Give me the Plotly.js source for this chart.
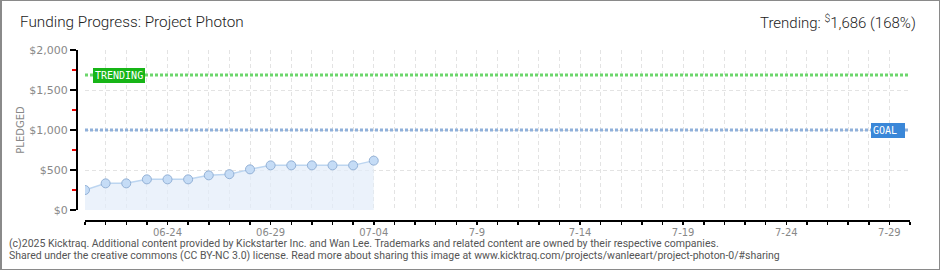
<!DOCTYPE html>
<html><head><meta charset="utf-8">
<script src="https://cdn.plot.ly/plotly-3.0.1.min.js"></script>
<style>
html,body{margin:0;padding:0;background:#fff;}
#wrap{position:relative;width:940px;height:270px;}
#chart{width:940px;height:270px;}
#frame{position:absolute;left:0;top:0;width:940px;height:270px;box-sizing:border-box;border:1px solid #8a8a8a;border-left-width:2px;pointer-events:none;}
</style></head>
<body><div id="wrap"><div id="chart"></div><div id="frame"></div></div>
<script>
const dates = ['2025-06-20','2025-06-21','2025-06-22','2025-06-23','2025-06-24','2025-06-25','2025-06-26','2025-06-27','2025-06-28','2025-06-29','2025-06-30','2025-07-01','2025-07-02','2025-07-03','2025-07-04'];
const pledged = [250, 333, 333, 383, 383, 383, 433, 448, 508, 558, 558, 558, 558, 558, 617];
const goal = 1000;
const trending = 1686;
const rangeStart = '2025-06-20';
const rangeEnd = '2025-07-30';
const labelDates = ['2025-06-24','2025-06-29','2025-07-04','2025-07-09','2025-07-14','2025-07-19','2025-07-24','2025-07-29'];
const labelTexts = ['06-24','06-29','07-04','7-9','7-14','7-19','7-24','7-29'];
const yTickVals = [0, 500, 1000, 1500, 2000];
const yTickTexts = ['$0','$500','$1,000','$1,500','$2,000'];
const titleText = 'Funding Progress: Project Photon';
const trendText = 'Trending: <sup>$</sup>1,686 (168%)';
const footer1 = '(c)2025 Kicktraq. Additional content provided by Kickstarter Inc. and Wan Lee. Trademarks and related content are owned by their respective companies.';
const footer2 = 'Shared under the creative commons (CC BY-NC 3.0) license. Read more about sharing this image at www.kicktraq.com/projects/wanleeart/project-photon-0/#sharing';

const DAY = 86400000;
const traces = [
  {x:[rangeStart, rangeEnd], y:[trending, trending], mode:'lines', line:{color:'#6cd66c', width:3, dash:'3px,2px'}, hoverinfo:'skip'},
  {x:[rangeStart, rangeEnd], y:[goal, goal], mode:'lines', line:{color:'#8fb0da', width:3, dash:'3px,2px'}, hoverinfo:'skip'},
  {x:dates, y:pledged, mode:'lines+markers', fill:'tozeroy', fillcolor:'rgba(226,237,250,0.7)',
   line:{color:'#bcd5f0', width:1.5}, marker:{size:9, color:'#c5dcf6', line:{color:'#93b1d6', width:1}}}
];
const gridStyle = {gridcolor:'#e3e3e3', griddash:'4px,3px', gridwidth:1};
const layout = {
  width:940, height:270, showlegend:false,
  paper_bgcolor:'#ffffff', plot_bgcolor:'#ffffff',
  margin:{l:76, r:30, t:50, b:50},
  font:{family:'DejaVu Sans', color:'#888'},
  title:{text:titleText, x:20/940, xanchor:'left', xref:'container', y:1-22/270, yref:'container', yanchor:'middle',
         font:{family:'Roboto', size:15.3, color:'#222', weight:300}},
  xaxis:{type:'date', range:[rangeStart, rangeEnd], domain:[9/834, 1], anchor:'free', position:0,
         tickvals:labelDates, ticktext:labelTexts, tickfont:{size:10, color:'#888'}, ticklabelstandoff:-1,
         showline:true, linecolor:'#000', linewidth:1.5, ticks:'outside', ticklen:3, tickcolor:'#000', tickwidth:1.5,
         showgrid:true, ...gridStyle, zeroline:false,
         minor:{dtick:DAY, tick0:rangeStart, ticks:'outside', ticklen:3, tickcolor:'#000', tickwidth:1.5, showgrid:true, gridcolor:'#e3e3e3', griddash:'4px,3px'}},
  xaxis2:{type:'date', range:[rangeStart, rangeEnd], domain:[9/834, 1], anchor:'free', position:0, overlaying:'x',
         dtick:DAY, tick0:rangeStart, ticks:'inside', ticklen:3, tickcolor:'#000', tickwidth:1.5, showticklabels:false,
         showgrid:false, zeroline:false, showline:false},
  yaxis:{range:[0, 2000], domain:[10/170, 1], anchor:'free', position:0,
         tickvals:yTickVals, ticktext:yTickTexts, tickfont:{size:11, color:'#888'},
         showline:true, linecolor:'#000', linewidth:1.5, ticks:'outside', ticklen:6, tickcolor:'#000', tickwidth:1.5,
         showgrid:true, ...gridStyle, zeroline:false,
         minor:{dtick:250, tick0:250, ticks:'outside', ticklen:4, tickcolor:'#e00', tickwidth:1.5, showgrid:false},
         title:{text:'PLEDGED', font:{size:10, color:'#888'}, standoff:1}},
  annotations:[
    {xref:'paper', yref:'y', x:17/834, y:trending, xanchor:'left', yanchor:'middle', text:'TRENDING', showarrow:false,
     bgcolor:'#17b517', bordercolor:'#17b517', borderpad:1, font:{family:'DejaVu Sans Mono', size:10, color:'#fff'}},
    {xref:'paper', yref:'y', x:829/834, y:goal, xanchor:'right', yanchor:'middle', text:'GOAL ', showarrow:false,
     bgcolor:'#3a87d8', bordercolor:'#3a87d8', borderpad:1, font:{family:'DejaVu Sans Mono', size:10, color:'#fff'}},
    {xref:'paper', yref:'paper', x:(918-76)/834, y:(220-22)/170, xanchor:'right', yanchor:'middle', text:trendText, showarrow:false,
     font:{family:'Roboto', size:15, color:'#222', weight:300}},
    {xref:'paper', yref:'paper', x:-69/834, y:(220-243)/170, xanchor:'left', yanchor:'middle', text:footer1, showarrow:false,
     font:{family:'Roboto', size:10.5, color:'#555'}},
    {xref:'paper', yref:'paper', x:-69/834, y:(220-256)/170, xanchor:'left', yanchor:'middle', text:footer2, showarrow:false,
     font:{family:'Roboto', size:10.5, color:'#555'}}
  ]
};
Plotly.newPlot('chart', traces, layout, {staticPlot:true, displayModeBar:false});
</script></body></html>
